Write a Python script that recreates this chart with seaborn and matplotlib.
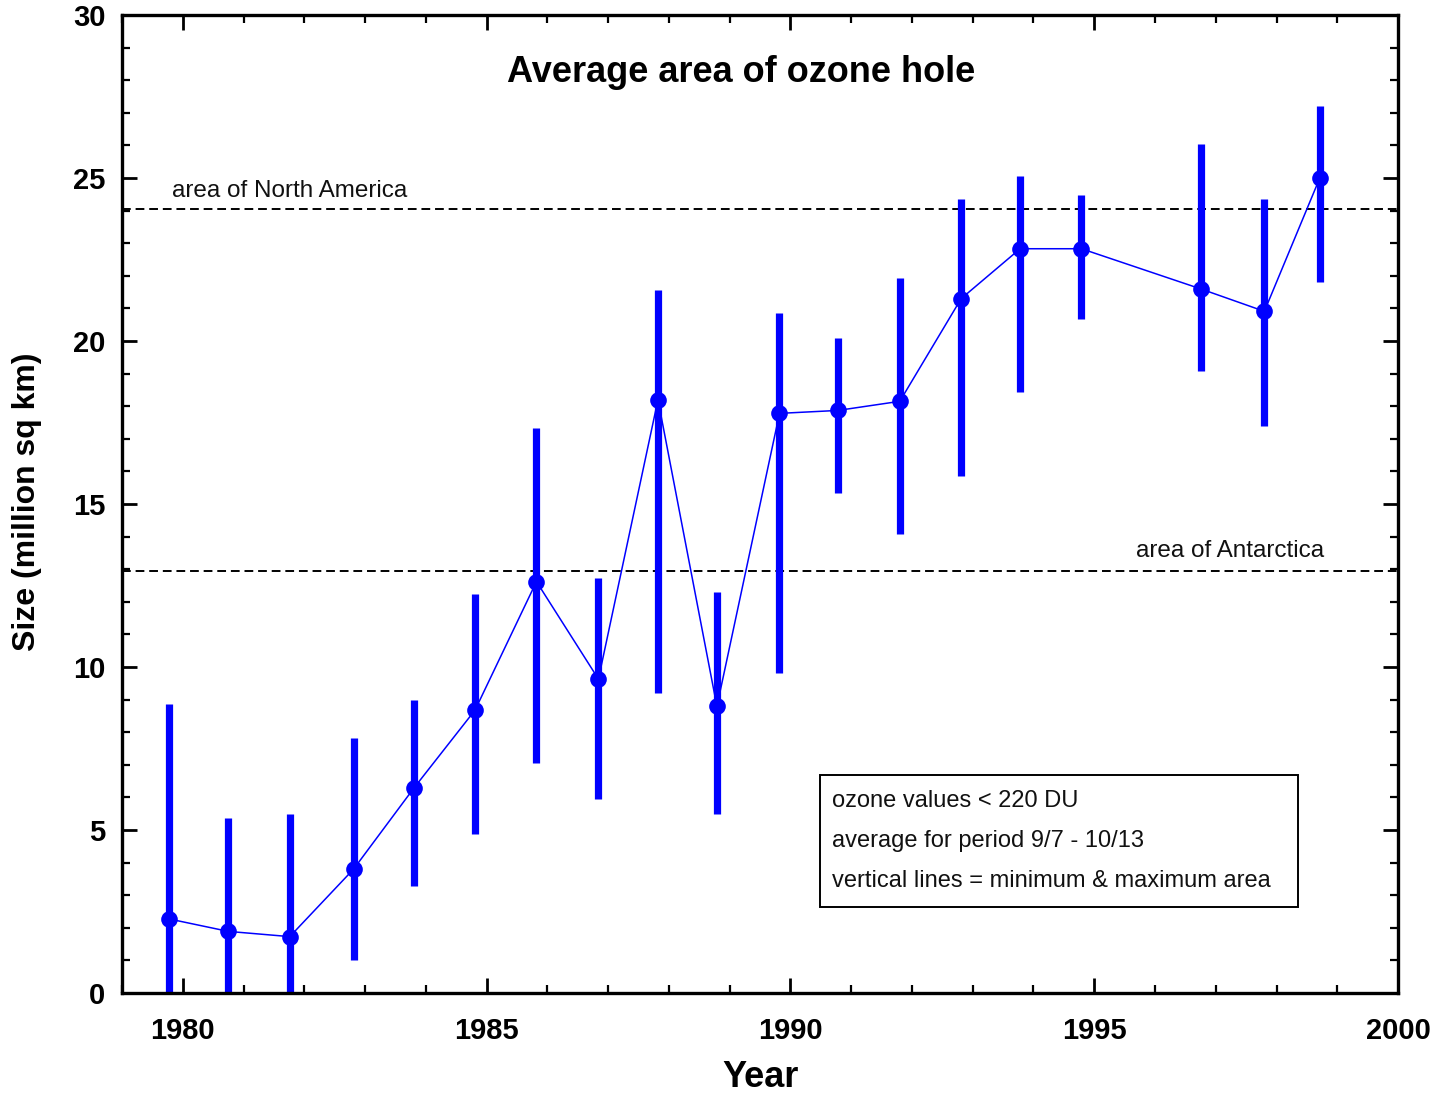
import matplotlib
matplotlib.use("Agg")
import matplotlib.pyplot as plt
from matplotlib.patches import Rectangle
from matplotlib.ticker import MultipleLocator
import seaborn as sns
import pandas as pd

# Plot positions (decimal year) of each seasonal average
year_pos = [1979.78, 1980.75, 1981.76, 1982.81, 1983.80, 1984.81, 1985.82,
            1986.84, 1987.82, 1988.79, 1989.82, 1990.78, 1991.80, 1992.81,
            1993.78, 1994.79, 1996.75, 1997.80, 1998.71]
# Average ozone hole area (million sq km)
mean_area = [2.27, 1.89, 1.73, 3.80, 6.28, 8.68, 12.62, 9.63, 18.20, 8.79,
             17.78, 17.87, 18.15, 21.30, 22.83, 22.83, 21.60, 20.91, 24.99]
# Minimum and maximum daily area over the period
min_area = [0.0, 0.0, 0.0, 1.00, 3.29, 4.89, 7.07, 5.96, 9.19, 5.48,
            9.83, 15.35, 14.08, 15.85, 18.43, 20.69, 19.07, 17.39, 21.81]
max_area = [8.86, 5.37, 5.49, 7.81, 8.99, 12.25, 17.34, 12.73, 21.57, 12.31,
            20.85, 20.08, 21.93, 24.36, 25.05, 24.48, 26.04, 24.36, 27.22]

# Reference areas
ref_labels = ["area of North America", "area of Antarctica"]
ref_values = [24.04, 12.94]

x_ticks = [1980, 1985, 1990, 1995, 2000]
y_ticks = [0, 5, 10, 15, 20, 25, 30]

note_lines = ["ozone values < 220 DU",
              "average for period 9/7 - 10/13",
              "vertical lines = minimum & maximum area"]

df = pd.DataFrame({"year": year_pos, "mean": mean_area,
                   "lo": min_area, "hi": max_area})

sns.set_theme(style="ticks")
plt.rcParams["font.family"] = ["Liberation Sans", "DejaVu Sans"]
plt.rcParams["text.color"] = "black"
plt.rcParams["axes.labelcolor"] = "black"
plt.rcParams["xtick.labelcolor"] = "black"
plt.rcParams["ytick.labelcolor"] = "black"

fig = plt.figure(figsize=(14.48, 10.94), dpi=100)
ax = fig.add_axes([0.0843, 0.0923, 0.8812, 0.8940])

blue = "#0000FF"

# min/max range bars
ax.vlines(df["year"], df["lo"], df["hi"], color=blue, lw=5.2, zorder=2)
# connecting line with markers at each average
sns.lineplot(data=df, x="year", y="mean", ax=ax, color=blue, lw=1.1,
             marker="o", markersize=12, markeredgewidth=0, sort=False,
             zorder=3)

# reference area lines
for v in ref_values:
    ax.axhline(v, color="black", lw=1.4, ls=(0, (4.5, 2.5)), zorder=1)
ax.text(1979.82, ref_values[0] + 0.55, ref_labels[0], fontsize=17.5,
        ha="left", va="center", color="#111111")
ax.text(1998.78, ref_values[1] + 0.62, ref_labels[1], fontsize=17.5,
        ha="right", va="center", color="#111111")

ax.set_xlim(1979, 2000)
ax.set_ylim(0, 30)
ax.set_xticks(x_ticks)
ax.set_yticks(y_ticks)
ax.xaxis.set_minor_locator(MultipleLocator(1))
ax.yaxis.set_minor_locator(MultipleLocator(1))
ax.tick_params(which="both", direction="in", top=True, right=True,
               color="black")
ax.tick_params(which="major", length=11, width=2)
ax.tick_params(which="minor", length=6, width=1.6)
ax.tick_params(axis="x", which="major", pad=17, labelsize=21)
ax.tick_params(axis="y", which="major", pad=12, labelsize=21)
for lab in ax.get_xticklabels() + ax.get_yticklabels():
    lab.set_fontweight("bold")
for s in ax.spines.values():
    s.set_linewidth(2.4)
    s.set_color("black")

ax.set_xlabel("Year", fontsize=26, fontweight="bold")
ax.xaxis.set_label_coords(0.5, -0.0865)
ax.xaxis.label.set_va("center")
ax.set_ylabel("Size (million sq km)", fontsize=23, fontweight="bold")
ax.yaxis.set_label_coords(-0.0745, 0.502)
ax.yaxis.label.set_va("center")

ax.text(0.485, 0.941, "Average area of ozone hole", transform=ax.transAxes,
        ha="center", va="center", fontsize=26, fontweight="bold")

# notes box
ax.add_patch(Rectangle((0.547, 0.0879), 0.3746, 0.135,
                       transform=ax.transAxes, fill=True, facecolor="white",
                       edgecolor="black", lw=1.4, zorder=4))
for i, line in enumerate(note_lines):
    ax.text(0.5564, 0.196 - i * 0.0408, line, transform=ax.transAxes,
            ha="left", va="center", fontsize=17, color="#111111", zorder=5)

fig.savefig("out.png", dpi=100)
